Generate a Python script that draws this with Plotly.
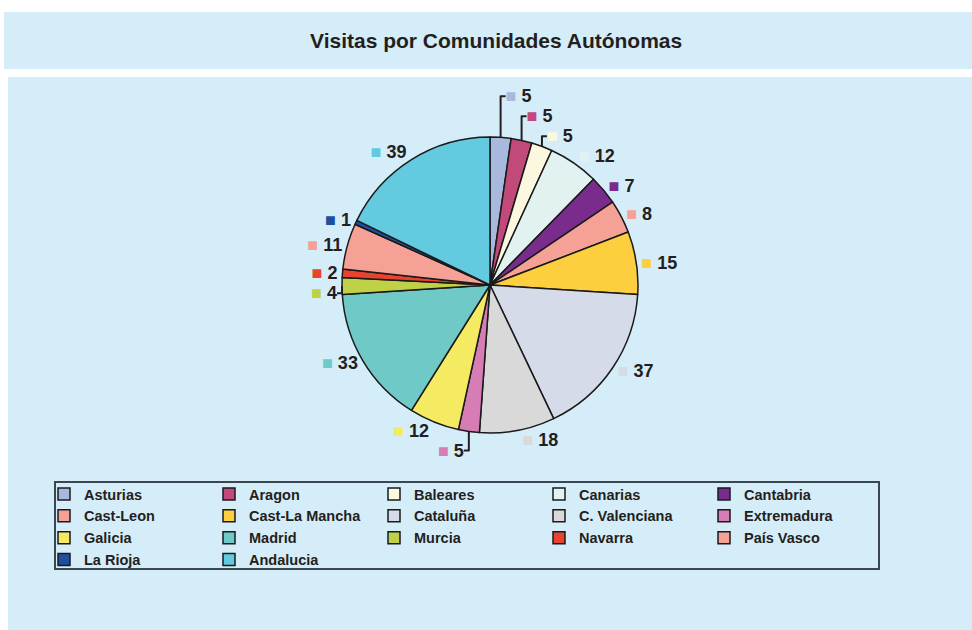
import plotly.graph_objects as go

W, H = 972, 630

regions = ["Asturias", "Aragon", "Baleares", "Canarias", "Cantabria",
           "Cast-Leon", "Cast-La Mancha", "Cataluña", "C. Valenciana", "Extremadura",
           "Galicia", "Madrid", "Murcia", "Navarra", "País Vasco",
           "La Rioja", "Andalucia"]
visits = [5, 5, 5, 12, 7, 8, 15, 37, 18, 5, 12, 33, 4, 2, 11, 1, 39]
colors = ["#A9B8DD", "#C24A7A", "#FCF8E0", "#E2F2F1", "#7A2C8C",
          "#F5A195", "#FDCF3F", "#D6DBEA", "#D9D9D9", "#D67DB5",
          "#F5EB62", "#6FC9C6", "#BFD147", "#E8432E", "#F5A195",
          "#1F4FA0", "#63CAE0"]

title_text = "Visitas por Comunidades Autónomas"
BG = "#D5EDF9"
FONT = "Liberation Sans, Arial, sans-serif"


def px_x(x):
    return x / W


def px_y(y):
    return 1 - y / H


label_templates = [
    "<span style='color:%s'>■</span> %%{value}" % c for c in colors
]

CX, CY, R = 490, 285, 148

pie = go.Pie(
    labels=regions,
    values=visits,
    sort=False,
    direction="clockwise",
    rotation=0,
    marker=dict(colors=colors, line=dict(color="#1a1a1a", width=1.5)),
    textposition="outside",
    texttemplate=label_templates,
    outsidetextfont=dict(family=FONT, size=18, color="#231F20", weight="bold"),
    domain=dict(x=[px_x(CX - R), px_x(CX + R)], y=[px_y(CY + R), px_y(CY - R)]),
    hoverinfo="label+value+percent",
    showlegend=True,
)

fig = go.Figure(pie)

fig.update_layout(
    width=W, height=H,
    margin=dict(l=0, r=0, t=0, b=0),
    paper_bgcolor="white",
    plot_bgcolor="white",
    font=dict(family=FONT, color="#231F20"),
    shapes=[
        dict(type="rect", xref="paper", yref="paper", layer="below",
             x0=px_x(4), x1=1, y0=px_y(69), y1=px_y(12),
             fillcolor=BG, line=dict(width=0)),
        dict(type="rect", xref="paper", yref="paper", layer="below",
             x0=px_x(8), x1=1, y0=0, y1=px_y(77),
             fillcolor=BG, line=dict(width=0)),
        dict(type="rect", xref="paper", yref="paper", layer="below",
             x0=px_x(55), x1=px_x(879), y0=px_y(569), y1=px_y(482),
             fillcolor=BG, line=dict(color="#3A4750", width=2)),
    ],
    annotations=[
        dict(text="<b>%s</b>" % title_text, xref="paper", yref="paper",
             x=px_x(496), y=px_y(40), xanchor="center", yanchor="middle",
             showarrow=False, font=dict(family=FONT, size=21, color="#231F20")),
    ],
    legend=dict(
        orientation="h",
        x=px_x(44), y=px_y(478), xanchor="left", yanchor="top",
        entrywidth=120, entrywidthmode="pixels",
        bgcolor="rgba(0,0,0,0)", borderwidth=0,
        font=dict(family=FONT, size=14.5, color="#231F20", weight="bold"),
        traceorder="normal",
    ),
)

fig.write_html(
    "out.html",
    config={"displayModeBar": False},
    post_script="document.body.style.margin='0px';document.body.style.overflow='hidden';",
)
